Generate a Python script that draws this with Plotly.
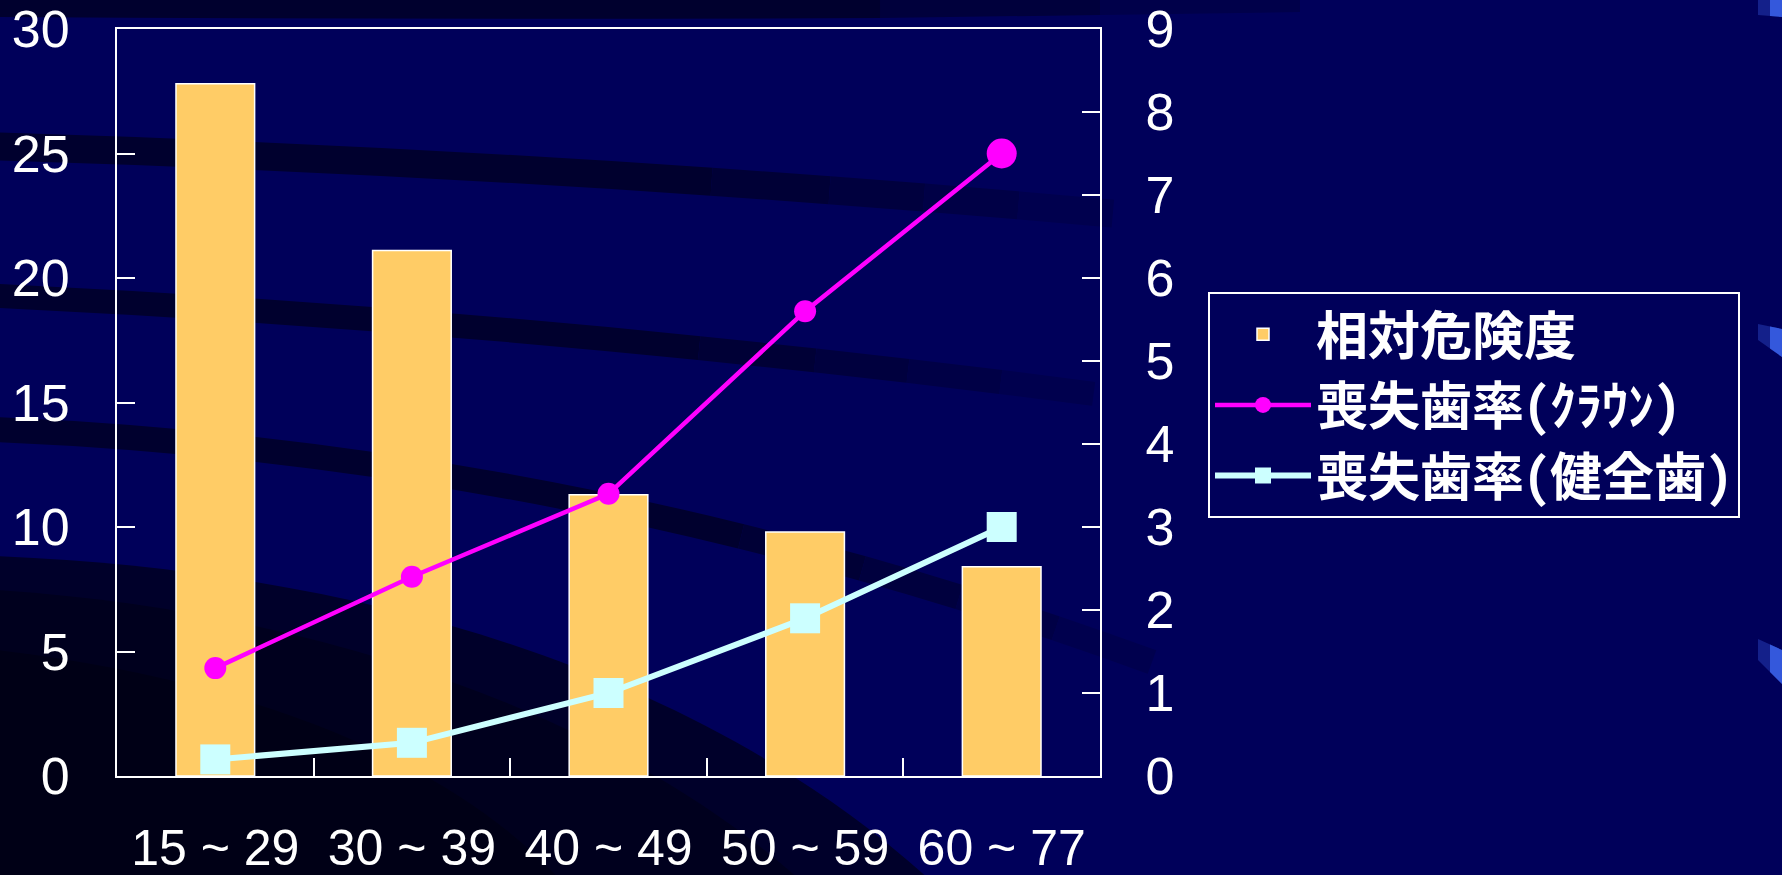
import plotly.graph_objects as go

# ---------------- data ----------------
age_groups = ["15 ~ 29", "30 ~ 39", "40 ~ 49", "50 ~ 59", "60 ~ 77"]
relative_risk = [27.8, 21.1, 11.3, 9.8, 8.4]          # left axis
loss_rate_crown = [1.3, 2.4, 3.4, 5.6, 7.5]           # right axis
loss_rate_healthy = [0.2, 0.4, 1.0, 1.9, 3.0]         # right axis
left_ticks = [0, 5, 10, 15, 20, 25, 30]
right_ticks = [0, 1, 2, 3, 4, 5, 6, 7, 8, 9]
series_names = ["相対危険度", "喪失歯率(ｸﾗｳﾝ)", "喪失歯率(健全歯)"]

# ---------------- figure geometry ----------------
W, H = 1782, 875
L, R, T, B = 117, 1100, 29, 776


def px(x, y):
    """pixel -> paper coordinates (for decorative background shapes)"""
    return (x - L) / (R - L), (B - y) / (B - T)


def path(cmds):
    out = []
    for c in cmds:
        if isinstance(c, str):
            out.append(c)
        else:
            xx, yy = px(*c)
            out.append(f"{xx:.5f},{yy:.5f}")
    return " ".join(out)


def bez(p0, c, p2, t):
    return ((1 - t) ** 2 * p0[0] + 2 * (1 - t) * t * c[0] + t * t * p2[0],
            (1 - t) ** 2 * p0[1] + 2 * (1 - t) * t * c[1] + t * t * p2[1])


BG = "#00005a"
shapes = []


def add_fill(pts_cmds, color):
    shapes.append(dict(type="path", xref="paper", yref="paper", layer="below",
                       path=path(pts_cmds), fillcolor=color, line=dict(width=0)))


# top dark strip, fading to the right
add_fill(["M", (0, 0), "L", (880, 0), "L", (880, 18), "Q", (450, 20), (0, 17), "Z"], "#00002e")
add_fill(["M", (880, 0), "L", (1100, 0), "L", (1100, 15), "L", (880, 18), "Z"], "#00003c")
add_fill(["M", (1100, 0), "L", (1300, 0), "L", (1300, 12), "L", (1100, 15), "Z"], "#00004a")

# curved dark bands, fading out toward the right
bands = [
    ((-20, 146), (570, 163), (1160, 218), 28),
    ((-20, 295), (560, 322), (1140, 400), 24),
    ((-20, 429), (600, 452), (1200, 680), 25),
]
fade = ["#00002e", "#000036", "#00003e", "#000046", "#00004e"]
for p0, c, p2, w in bands:
    ts = [0, 0.62, 0.72, 0.8, 0.88, 0.96]
    for i, col in enumerate(fade):
        a, b = ts[i], ts[i + 1]
        pa, pb = bez(p0, c, p2, a), bez(p0, c, p2, b)
        pm = bez(p0, c, p2, (a + b) / 2)
        cc = (2 * pm[0] - 0.5 * (pa[0] + pb[0]), 2 * pm[1] - 0.5 * (pa[1] + pb[1]))
        shapes.append(dict(type="path", xref="paper", yref="paper", layer="below",
                           path=path(["M", pa, "Q", cc, pb]),
                           line=dict(color=col, width=w), fillcolor="rgba(0,0,0,0)"))

# lower-left dark region (nested arcs)
add_fill(["M", (-5, 556), "C", (400, 572), (720, 690), (930, 880), "L", (-5, 880), "Z"], "#00002a")
add_fill(["M", (-5, 590), "C", (330, 612), (620, 720), (800, 880), "L", (-5, 880), "Z"], "#00001e")
add_fill(["M", (-5, 650), "C", (250, 680), (450, 760), (560, 880), "L", (-5, 880), "Z"], "#000016")

# bright blue swoosh fragments on the right edge
for pts in [
    [(1758, 0), (1782, 0), (1782, 17), (1758, 15)],
    [(1758, 324), (1782, 329), (1782, 357), (1758, 340)],
    [(1758, 639), (1782, 650), (1782, 684), (1758, 660)],
]:
    add_fill(["M", pts[0], "L", pts[1], "L", pts[2], "L", pts[3], "Z"], "#14208a")
    mid_t = ((pts[0][0] + pts[1][0]) / 2, (pts[0][1] + pts[1][1]) / 2)
    mid_b = ((pts[3][0] + pts[2][0]) / 2, (pts[3][1] + pts[2][1]) / 2)
    add_fill(["M", mid_t, "L", pts[1], "L", pts[2], "L", mid_b, "Z"], "#3458dc")

X_FONT = dict(family="Liberation Sans, Arial, sans-serif", size=50, color="white")
Y_FONT = dict(family="Liberation Sans, Arial, sans-serif", size=52, color="white")

fig = go.Figure()
fig.add_trace(go.Bar(
    x=age_groups, y=relative_risk, name=series_names[0],
    marker=dict(color="#FFCC66", line=dict(color="white", width=1.5)),
    yaxis="y",
))
fig.add_trace(go.Scatter(
    x=age_groups, y=loss_rate_crown, name=series_names[1], mode="lines+markers",
    line=dict(color="#FF00FF", width=4.5),
    marker=dict(color="#FF00FF", size=[22, 22, 22, 22, 30], symbol="circle",
                line=dict(width=0), opacity=1),
    yaxis="y2", cliponaxis=False,
))
fig.add_trace(go.Scatter(
    x=age_groups, y=loss_rate_healthy, name=series_names[2], mode="lines+markers",
    line=dict(color="#CCFFFF", width=6),
    marker=dict(color="#CCFFFF", size=30, symbol="square", line=dict(width=0), opacity=1),
    yaxis="y2", cliponaxis=False,
))

axis_common = dict(showgrid=False, zeroline=False, showline=True, linecolor="white", linewidth=2,
                   ticks="inside", ticklen=18, tickwidth=2, tickcolor="white",
                   automargin=False, ticklabeloverflow="allow")

fig.update_layout(
    template="none",
    width=W, height=H,
    margin=dict(l=L, r=W - R, t=T, b=H - B, pad=0, autoexpand=False),
    paper_bgcolor=BG, plot_bgcolor="rgba(0,0,0,0)",
    bargap=0.6,
    showlegend=True,
    shapes=shapes,
    xaxis=dict(type="category", range=[-0.5, 4.5], mirror=True, tickson="boundaries",
               ticklabelstandoff=27, tickfont=X_FONT, **axis_common),
    yaxis=dict(range=[0, 30], tickvals=left_ticks, ticklabelstandoff=35, tickfont=Y_FONT,
               **axis_common),
    yaxis2=dict(range=[0, 9], tickvals=right_ticks, overlaying="y", side="right",
                ticklabelstandoff=33, tickfont=Y_FONT, **axis_common),
    legend=dict(x=(1208 - L) / (R - L), y=(B - 292) / (B - T), xanchor="left", yanchor="top",
                bgcolor="rgba(0,0,0,0)", bordercolor="white", borderwidth=2,
                font=dict(family="Noto Sans Mono CJK JP, Noto Sans CJK JP", size=52,
                          color="white", weight="bold"),
                itemwidth=96, traceorder="normal"),
)

fig.write_html("out.html")
